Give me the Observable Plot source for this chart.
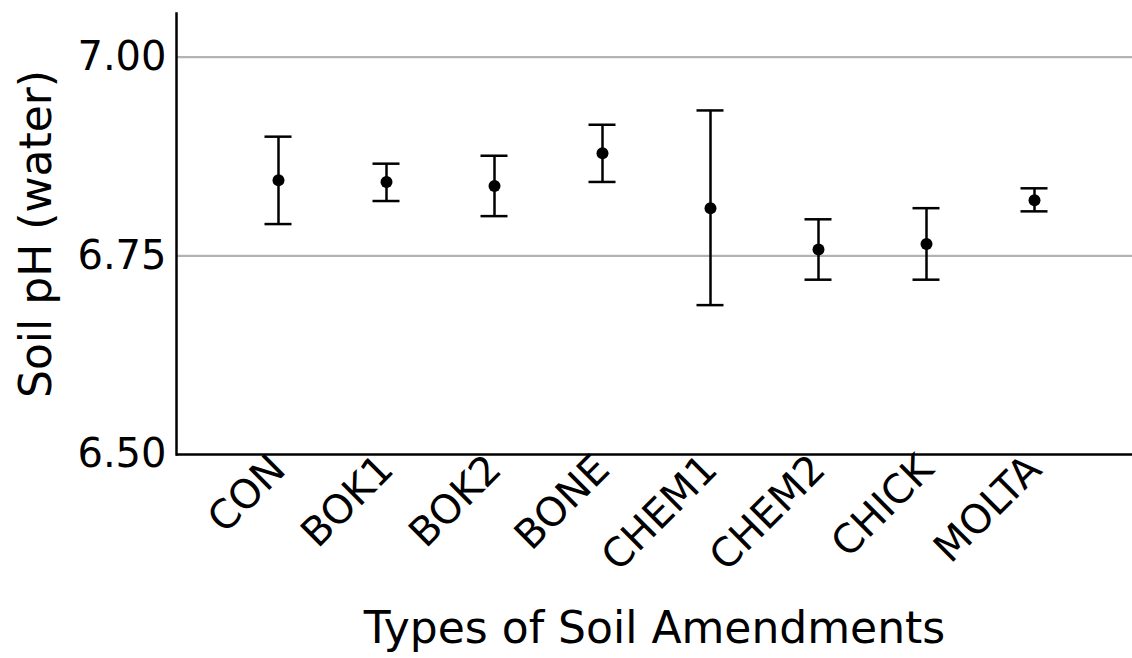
<!DOCTYPE html>
<html>
<head>
<meta charset="utf-8">
<script src="https://cdn.jsdelivr.net/npm/d3@7"></script>
<script src="https://cdn.jsdelivr.net/npm/@observablehq/plot@0.6"></script>
<style>
  html, body { margin: 0; padding: 0; background: #fff; }
  #chart svg { font-family: "DejaVu Sans", sans-serif; }
</style>
</head>
<body>
<div id="chart"></div>
<script>
const categories = ["CON", "BOK1", "BOK2", "BONE", "CHEM1", "CHEM2", "CHICK", "MOLTA"];
const means = [6.845, 6.843, 6.838, 6.879, 6.810, 6.758, 6.765, 6.820];
const lower = [6.790, 6.819, 6.800, 6.843, 6.688, 6.720, 6.720, 6.806];
const upper = [6.900, 6.866, 6.876, 6.915, 6.933, 6.796, 6.810, 6.835];
const yTicks = [6.50, 6.75, 7.00];
const gridTicks = [6.75, 7.00];
const xTitle = "Types of Soil Amendments";
const yTitle = "Soil pH (water)";

const data = categories.map((c, i) => ({cat: c, mean: means[i], lo: lower[i], hi: upper[i]}));

const chart = Plot.plot({
  width: 1132,
  height: 658,
  marginLeft: 176,
  marginRight: 0,
  marginTop: 13,
  marginBottom: 204,
  style: {fontFamily: "DejaVu Sans", color: "#000", background: "#fff"},
  x: {type: "band", domain: categories, range: [176, 1136], paddingInner: 0.5, paddingOuter: 0.67, label: null},
  y: {domain: [6.5, 7.055], label: null},
  marks: [
    Plot.ruleY(gridTicks, {stroke: "#b3b3b3", strokeWidth: 2.2}),
    Plot.ruleY([6.5], {stroke: "#000", strokeWidth: 2.5}),
    Plot.frame({anchor: "left", stroke: "#000", strokeWidth: 2.5}),
    Plot.axisY({ticks: yTicks, tickFormat: d3.format(".2f"), tickSize: 0, tickPadding: 10, fontSize: 40, label: null}),
    Plot.axisX({tickRotate: -45, tickSize: 0, tickPadding: 8, fontSize: 40, label: null}),
    Plot.ruleX(data, {x: "cat", y1: "lo", y2: "hi", stroke: "#000", strokeWidth: 2.5}),
    Plot.tickY(data, {x: "cat", y: "lo", stroke: "#000", strokeWidth: 2.5, insetLeft: 13.5, insetRight: 13.5}),
    Plot.tickY(data, {x: "cat", y: "hi", stroke: "#000", strokeWidth: 2.5, insetLeft: 13.5, insetRight: 13.5}),
    Plot.dot(data, {x: "cat", y: "mean", r: 6, fill: "#000", stroke: null}),
    Plot.text([xTitle], {frameAnchor: "bottom", dy: 188, fontSize: 44, fill: "#000"}),
    Plot.text([yTitle], {frameAnchor: "left", textAnchor: "middle", dx: -140, rotate: -90, fontSize: 44, fill: "#000"})
  ]
});
document.getElementById("chart").appendChild(chart);
</script>
</body>
</html>
